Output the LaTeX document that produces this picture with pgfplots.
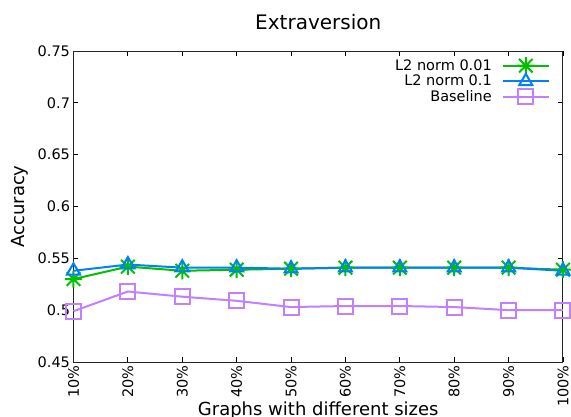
\documentclass[border=0pt]{standalone}
\usepackage{fontspec}
\setmainfont{DejaVu Sans}
\usepackage{pgfplots}
\pgfplotsset{compat=1.18}

\definecolor{gpgreen}{RGB}{0,192,0}
\definecolor{gpblue}{RGB}{0,128,255}
\definecolor{gppurple}{RGB}{192,128,255}

% gnuplot-style star: a plus and a cross on top of each other
\pgfdeclareplotmark{gpstar}{%
  \pgfpathmoveto{\pgfqpoint{-\pgfplotmarksize}{0pt}}%
  \pgfpathlineto{\pgfqpoint{\pgfplotmarksize}{0pt}}%
  \pgfpathmoveto{\pgfqpoint{0pt}{-\pgfplotmarksize}}%
  \pgfpathlineto{\pgfqpoint{0pt}{\pgfplotmarksize}}%
  \pgfpathmoveto{\pgfqpoint{-0.8\pgfplotmarksize}{-0.8\pgfplotmarksize}}%
  \pgfpathlineto{\pgfqpoint{0.8\pgfplotmarksize}{0.8\pgfplotmarksize}}%
  \pgfpathmoveto{\pgfqpoint{-0.8\pgfplotmarksize}{0.8\pgfplotmarksize}}%
  \pgfpathlineto{\pgfqpoint{0.8\pgfplotmarksize}{-0.8\pgfplotmarksize}}%
  \pgfusepathqstroke}

\begin{document}
\begin{tikzpicture}
\useasboundingbox (-73.5bp,-55bp) rectangle (497.5bp,362bp);
\begin{axis}[
  at={(0,0)}, anchor=south west,
  scale only axis,
  width=489.5bp, height=311bp,
  xmin=10, xmax=100,
  ymin=0.45, ymax=0.75,
  xtick={10,20,...,100},
  xticklabels={10\%,20\%,30\%,40\%,50\%,60\%,70\%,80\%,90\%,100\%},
  ytick={0.45,0.5,...,0.75},
  yticklabels={0.45,0.5,0.55,0.6,0.65,0.7,0.75},
  x tick label style={rotate=90, anchor=east},
  tick align=inside,
  major tick length=5bp,
  tick style={black, line width=0.8bp},
  axis line style={black!85, line width=1bp},
  ticklabel style={font=\fontsize{14.5bp}{17bp}\selectfont},
  /pgf/number format/assume math mode=true,
  title={Extraversion},
  title style={font=\fontsize{20bp}{23bp}\selectfont, yshift=12bp},
  xlabel={Graphs with different sizes},
  ylabel={Accuracy},
  label style={font=\fontsize{18bp}{21bp}\selectfont},
  xlabel style={yshift=12bp},
  ylabel style={yshift=3bp},
  clip=false,
  legend plot pos=right,
  legend cell align=right,
  legend style={at={(1,1)}, anchor=north east, xshift=-10bp, yshift=-4bp,
    draw=none, fill=none, font=\fontsize{14.5bp}{17.5bp}\selectfont,
    row sep=-1bp},
  legend image code/.code={%
    \draw[mark repeat=2, mark phase=2, #1]
      plot coordinates {(0bp,0bp) (23bp,0bp) (46bp,0bp)};},
]
\addplot[gpgreen, line width=2bp, mark=gpstar, mark size=8.5bp,
  mark options={line width=2bp}] coordinates {
  (10,0.530) (20,0.542) (30,0.538) (40,0.539) (50,0.540)
  (60,0.541) (70,0.541) (80,0.541) (90,0.541) (100,0.539)};
\addlegendentry{L2 norm 0.01\kern8bp}
\addplot[gpblue, line width=2bp, mark=triangle, mark size=7.5bp,
  mark options={line width=2bp}] coordinates {
  (10,0.538) (20,0.544) (30,0.541) (40,0.541) (50,0.540)
  (60,0.541) (70,0.541) (80,0.541) (90,0.541) (100,0.538)};
\addlegendentry{L2 norm 0.1\kern8bp}
\addplot[gppurple, line width=2bp, mark=square, mark size=7.5bp,
  mark options={line width=2bp}] coordinates {
  (10,0.499) (20,0.518) (30,0.513) (40,0.509) (50,0.503)
  (60,0.504) (70,0.504) (80,0.503) (90,0.500) (100,0.500)};
\addlegendentry{Baseline\kern8bp}
\end{axis}
\end{tikzpicture}
\end{document}
